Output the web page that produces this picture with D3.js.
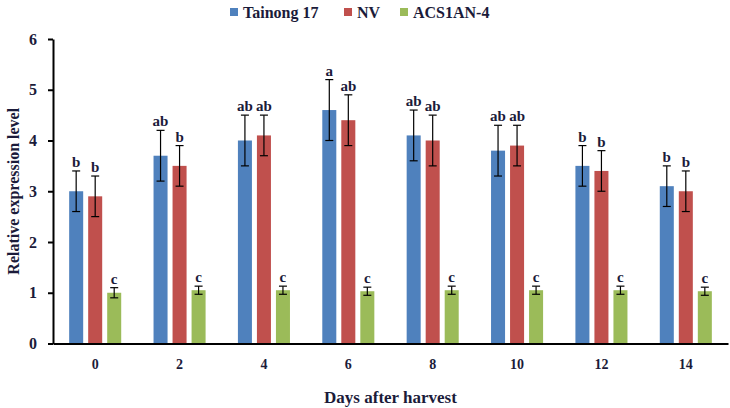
<!DOCTYPE html>
<html>
<head>
<meta charset="utf-8">
<script src="https://cdn.jsdelivr.net/npm/d3@7"></script>
<style>
  body { margin: 0; background: #ffffff; }
  svg text { font-family: "Liberation Serif", "Times New Roman", serif; font-weight: bold; }
</style>
</head>
<body>
<div id="chart"></div>
<script>
// Data.
const days = ["0", "2", "4", "6", "8", "10", "12", "14"];
const seriesNames = ["Tainong 17", "NV", "ACS1AN-4"];
const tainongValues = [3.0, 3.7, 4.0, 4.6, 4.1, 3.8, 3.5, 3.1];
const tainongErrors = [0.4, 0.5, 0.5, 0.6, 0.5, 0.5, 0.4, 0.4];
const tainongLetters = ["b", "ab", "ab", "a", "ab", "ab", "b", "b"];
const nvValues = [2.9, 3.5, 4.1, 4.4, 4.0, 3.9, 3.4, 3.0];
const nvErrors = [0.4, 0.4, 0.4, 0.5, 0.5, 0.4, 0.4, 0.4];
const nvLetters = ["b", "b", "ab", "ab", "ab", "ab", "b", "b"];
const acsValues = [1.0, 1.05, 1.05, 1.03, 1.05, 1.05, 1.05, 1.03];
const acsErrors = [0.1, 0.08, 0.08, 0.08, 0.08, 0.08, 0.08, 0.08];
const acsLetters = ["c", "c", "c", "c", "c", "c", "c", "c"];
const yTicks = [0, 1, 2, 3, 4, 5, 6];

const colors = ["#4F81BD", "#C0504D", "#9BBB59"];

// Size of the picture and plot area.
const width = 730, height = 408;
const plot = { left: 53, right: 728, top: 39, bottom: 343.5 };

// Build rows for drawing.
const rows = days.flatMap((d, i) => [
  { day: d, series: seriesNames[0], v: tainongValues[i], e: tainongErrors[i], l: tainongLetters[i] },
  { day: d, series: seriesNames[1], v: nvValues[i], e: nvErrors[i], l: nvLetters[i] },
  { day: d, series: seriesNames[2], v: acsValues[i], e: acsErrors[i], l: acsLetters[i] }
]);

const svg = d3.select("#chart").append("svg")
  .attr("width", width)
  .attr("height", height);

const x0 = d3.scaleBand()
  .domain(days)
  .range([plot.left, plot.right])
  .padding(0);

// Inner scale: 14px bars on a 19px step.
const x1 = d3.scaleBand()
  .domain(seriesNames)
  .range([0, x0.bandwidth()])
  .paddingInner(0.263)
  .paddingOuter(0.85);

const y = d3.scaleLinear()
  .domain([0, 6])
  .range([plot.bottom, plot.top]);

const color = d3.scaleOrdinal().domain(seriesNames).range(colors);

// Bars.
svg.append("g").selectAll("rect")
  .data(rows)
  .join("rect")
  .attr("x", d => x0(d.day) + x1(d.series))
  .attr("y", d => y(d.v))
  .attr("width", x1.bandwidth())
  .attr("height", d => y(0) - y(d.v))
  .attr("fill", d => color(d.series));

// Error bars.
const capW = 4;
const err = svg.append("g")
  .attr("stroke", "#000000")
  .attr("stroke-width", 1.2);
rows.forEach(d => {
  const cx = x0(d.day) + x1(d.series) + x1.bandwidth() / 2;
  err.append("line")
    .attr("x1", cx).attr("x2", cx)
    .attr("y1", y(d.v + d.e)).attr("y2", y(d.v - d.e));
  err.append("line")
    .attr("x1", cx - capW).attr("x2", cx + capW)
    .attr("y1", y(d.v + d.e)).attr("y2", y(d.v + d.e));
  err.append("line")
    .attr("x1", cx - capW).attr("x2", cx + capW)
    .attr("y1", y(d.v - d.e)).attr("y2", y(d.v - d.e));
});

// Significance letters.
svg.append("g").selectAll("text")
  .data(rows)
  .join("text")
  .attr("x", d => x0(d.day) + x1(d.series) + x1.bandwidth() / 2)
  .attr("y", d => y(d.v + d.e) - 4)
  .attr("text-anchor", "middle")
  .attr("font-size", "15px")
  .attr("fill", "#1b1b3a")
  .text(d => d.l);

// Y axis.
const yAxis = svg.append("g")
  .attr("transform", `translate(${plot.left},0)`)
  .call(d3.axisLeft(y).tickValues(yTicks).tickFormat(d3.format("d")).tickSize(5).tickSizeOuter(0).tickPadding(11));
yAxis.select(".domain").attr("stroke", "#000000").attr("stroke-width", 2);
yAxis.selectAll(".tick line").attr("stroke", "#000000").attr("stroke-width", 2);
yAxis.selectAll("text")
  .attr("font-size", "16px")
  .attr("fill", "#1b1b3a");

// X axis.
const xAxis = svg.append("g")
  .attr("transform", `translate(0,${plot.bottom})`)
  .call(d3.axisBottom(x0).tickSize(0).tickPadding(16));
xAxis.select(".domain").attr("stroke", "#000000").attr("stroke-width", 2);
xAxis.selectAll("text")
  .attr("font-size", "14px")
  .attr("fill", "#1b1b3a");

// Axis titles.
svg.append("text")
  .attr("transform", `translate(19,${(plot.top + plot.bottom) / 2}) rotate(-90)`)
  .attr("text-anchor", "middle")
  .attr("font-size", "16px")
  .attr("fill", "#1b1b3a")
  .text("Relative expression level");

svg.append("text")
  .attr("x", (plot.left + plot.right) / 2)
  .attr("y", 403)
  .attr("text-anchor", "middle")
  .attr("font-size", "17px")
  .attr("fill", "#1b1b3a")
  .text("Days after harvest");

// Legend.
const legendX = [230, 344, 400];
const legend = svg.append("g");
seriesNames.forEach((name, i) => {
  legend.append("rect")
    .attr("x", legendX[i])
    .attr("y", 8)
    .attr("width", 8)
    .attr("height", 8)
    .attr("fill", colors[i]);
  legend.append("text")
    .attr("x", legendX[i] + 13)
    .attr("y", 18)
    .attr("font-size", "16px")
    .attr("fill", "#1b1b3a")
    .text(name);
});
</script>
</body>
</html>
